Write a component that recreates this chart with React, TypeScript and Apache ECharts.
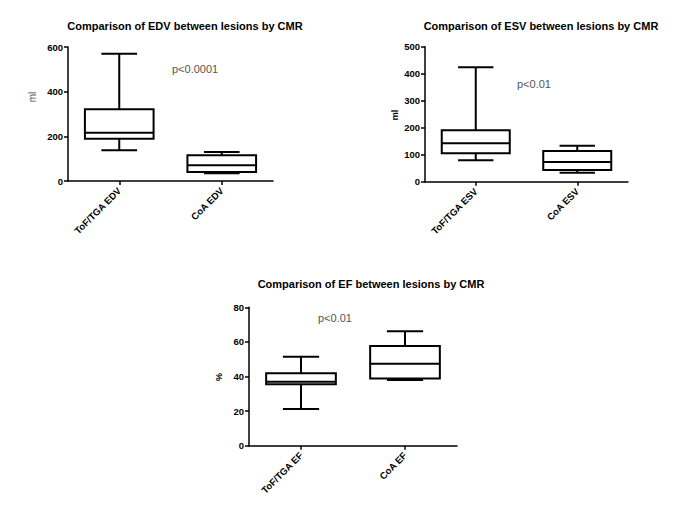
import React, { useEffect, useRef } from "react";
import * as echarts from "echarts";

// ---- data (min, Q1, median, Q3, max) ----
const edvCategories = ["ToF/TGA EDV", "CoA EDV"];
const edvToF = [138, 189, 216, 321, 570];
const edvCoA = [35, 40, 71, 115, 130];

const esvCategories = ["ToF/TGA ESV", "CoA ESV"];
const esvToF = [79, 105, 142, 191, 424];
const esvCoA = [33, 43, 73, 114, 133];

const efCategories = ["ToF/TGA EF", "CoA EF"];
const efToF = [21.2, 35.5, 36.9, 41.9, 51.4];
const efCoA = [38.0, 38.8, 47.4, 57.7, 66.1];

const titles = [
  "Comparison of EDV between lesions by CMR",
  "Comparison of ESV between lesions by CMR",
  "Comparison of EF between lesions by CMR",
];
const pTexts = ["p<0.0001", "p<0.01", "p<0.01"];
const yNames = ["ml", "ml", "%"];
const yMax = [600, 500, 80];
const yInterval = [200, 100, 20];

const FONT = '"Liberation Sans", Arial, Helvetica, sans-serif';

const BOX_RATIO = 0.67;
const CAP_RATIO = 0.52;

function renderBox(params: any, api: any) {
  const cat = api.value(0);
  const pts = [1, 2, 3, 4, 5].map((i) => api.coord([cat, api.value(i)]));
  const x = pts[0][0];
  const band = api.size([1, 0])[0];
  const hw = (band * BOX_RATIO) / 2;
  const cw = hw * CAP_RATIO;
  const [yMin, yQ1, yMed, yQ3, yMx] = pts.map((p: number[]) => p[1]);
  const style = { stroke: "#000", lineWidth: 2, fill: "none" };
  return {
    type: "group",
    children: [
      { type: "line", shape: { x1: x, y1: yMx, x2: x, y2: yQ3 }, style },
      { type: "line", shape: { x1: x, y1: yQ1, x2: x, y2: yMin }, style },
      { type: "line", shape: { x1: x - cw, y1: yMx, x2: x + cw, y2: yMx }, style },
      { type: "line", shape: { x1: x - cw, y1: yMin, x2: x + cw, y2: yMin }, style },
      {
        type: "rect",
        shape: { x: x - hw, y: yQ3, width: 2 * hw, height: yQ1 - yQ3 },
        style: { stroke: "#000", lineWidth: 2, fill: "#fff" },
      },
      { type: "line", shape: { x1: x - hw, y1: yMed, x2: x + hw, y2: yMed }, style },
    ],
  };
}

export default function App() {
  const ref = useRef<HTMLDivElement>(null);

  useEffect(() => {
    if (!ref.current) return;
    const chart = echarts.init(ref.current, null, { renderer: "svg" });

    const grids = [
      { left: 68, top: 47, width: 205, height: 134 },
      { left: 425, top: 46.7, width: 203, height: 135 },
      { left: 249, top: 307.3, width: 208, height: 138.4 },
    ];
    const cats = [edvCategories, esvCategories, efCategories];
    const data = [
      [edvToF, edvCoA],
      [esvToF, esvCoA],
      [efToF, efCoA],
    ];

    const titlePos = [
      [185, 20],
      [541, 20],
      [371, 278],
    ];
    const pPos = [
      [172, 69],
      [517, 84],
      [318, 318],
    ];
    const namePos = [
      [32, 97],
      [395, 115],
      [219, 377],
    ];

    const axisLine = { show: true, lineStyle: { color: "#000", width: 1.5 } };

    const option: any = {
      animation: false,
      backgroundColor: "#fff",
      title: titles.map((t, i) => ({
        text: t,
        left: titlePos[i][0],
        top: titlePos[i][1],
        textAlign: "center",
        padding: 0,
        textStyle: { fontFamily: FONT, fontSize: 11, fontWeight: "bold", color: "#000" },
      })),
      grid: grids,
      xAxis: cats.map((c, i) => ({
        type: "category",
        gridIndex: i,
        data: c,
        boundaryGap: true,
        axisLine,
        axisTick: { show: true, alignWithLabel: true, length: 4, lineStyle: { color: "#000", width: 1.5 } },
        axisLabel: {
          rotate: 45,
          margin: 8,
          interval: 0,
          fontFamily: FONT,
          fontSize: 9.5,
          fontWeight: "bold",
          color: "#000",
        },
        splitLine: { show: false },
      })),
      yAxis: yMax.map((m, i) => ({
        type: "value",
        gridIndex: i,
        min: 0,
        max: m,
        interval: yInterval[i],
        axisLine,
        axisTick: { show: true, length: 4, lineStyle: { color: "#000", width: 1.5 } },
        axisLabel: {
          margin: 5,
          fontFamily: FONT,
          fontSize: 9.5,
          fontWeight: "bold",
          color: "#000",
        },
        splitLine: { show: false },
      })),
      series: data.map((d, i) => ({
        type: "custom",
        xAxisIndex: i,
        yAxisIndex: i,
        renderItem: renderBox,
        encode: { x: 0, y: [1, 2, 3, 4, 5] },
        data: d.map((vals, k) => [k, ...vals]),
        clip: false,
      })),
      graphic: [
        ...pTexts.map((t, i) => ({
          type: "text",
          left: pPos[i][0],
          top: pPos[i][1] - 6,
          style: { text: t, font: `11px ${FONT}`, fill: "#555555" },
        })),
        ...yNames.map((n, i) => ({
          type: "text",
          x: namePos[i][0],
          y: namePos[i][1],
          rotation: Math.PI / 2,
          style: {
            text: n,
            font: i === 0 ? `10px ${FONT}` : `bold 9px ${FONT}`,
            fill: i === 0 ? "#555555" : "#000000",
            textAlign: "center",
            textVerticalAlign: "middle",
          },
        })),
      ],
    };

    chart.setOption(option);
    return () => chart.dispose();
  }, []);

  return (
    <div
      ref={ref}
      style={{ position: "absolute", left: 0, top: 0, width: 685, height: 513, background: "#fff" }}
    />
  );
}
